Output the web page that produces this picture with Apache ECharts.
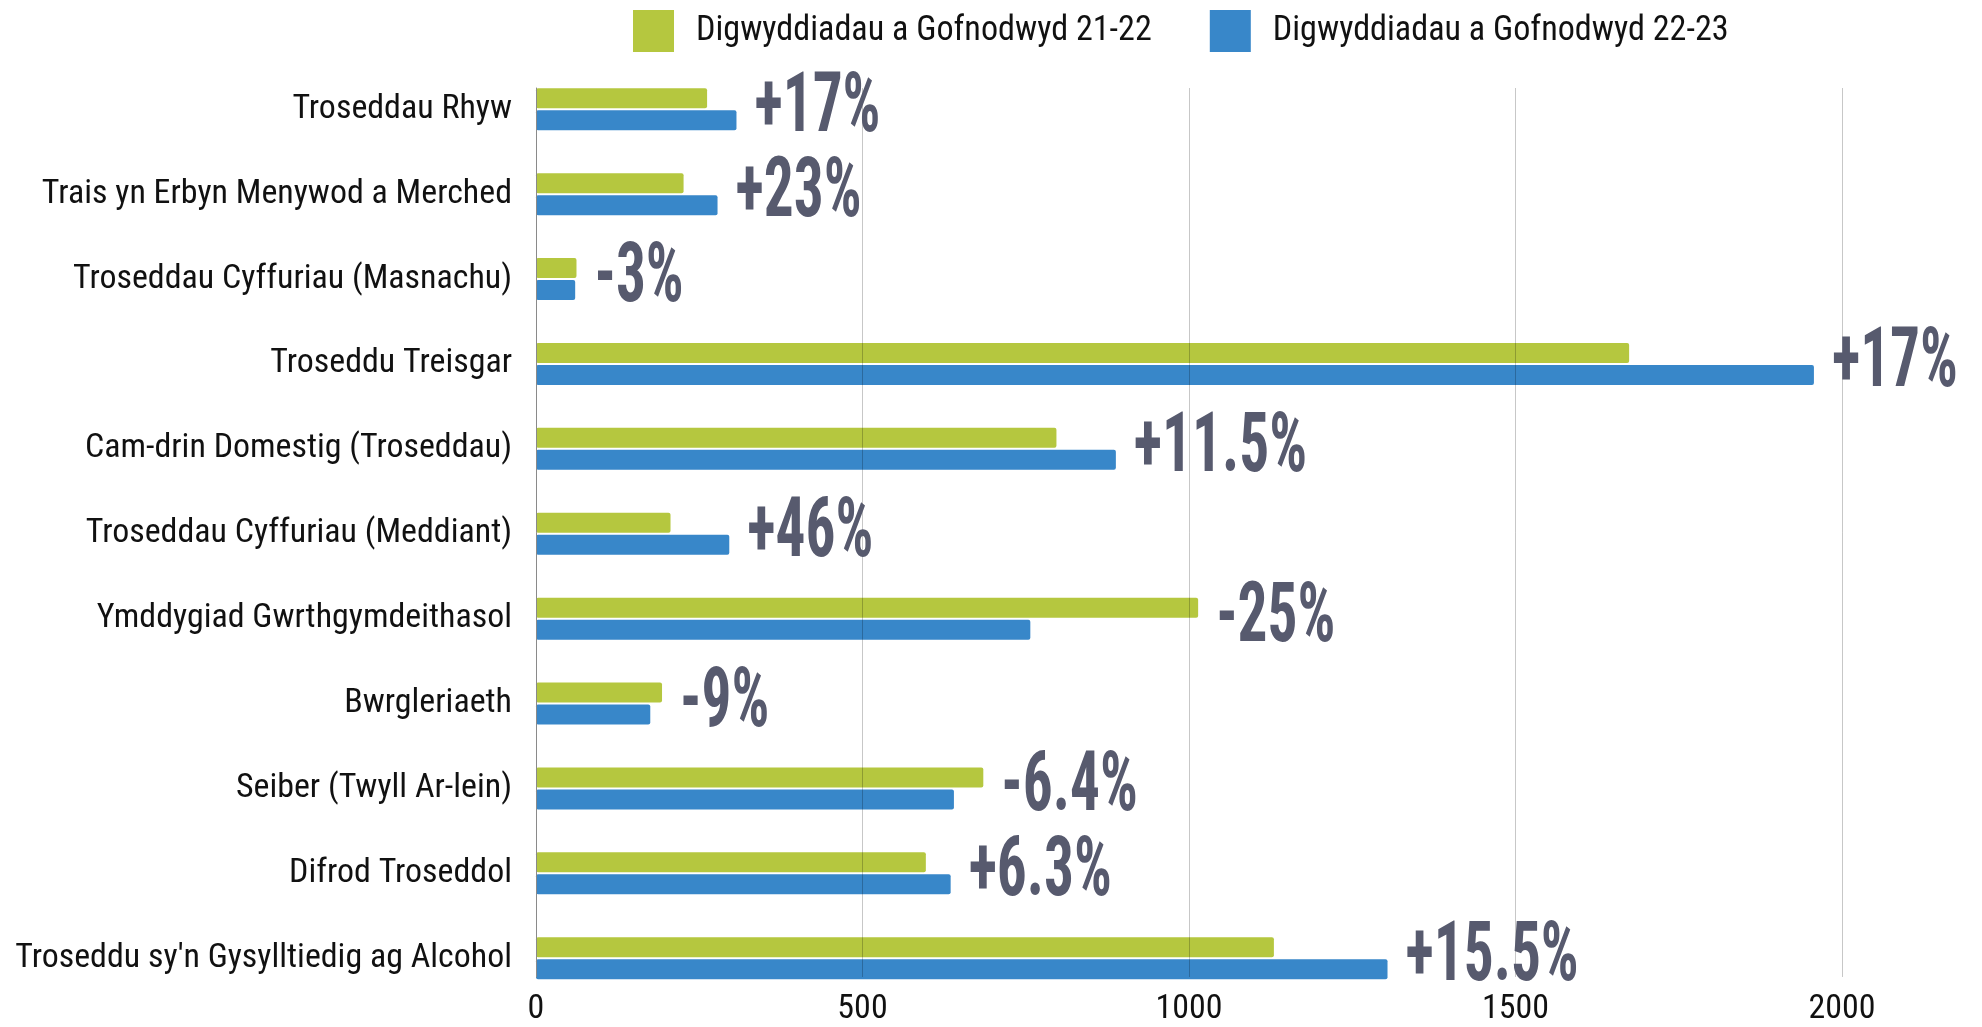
<!DOCTYPE html>
<html>
<head>
<meta charset="utf-8">
<script src="https://cdn.jsdelivr.net/npm/echarts@6/dist/echarts.min.js"></script>
<style>
html,body{margin:0;padding:0;background:#fff;}
#chart{width:1982px;height:1027px;}
</style>
</head>
<body>
<div id="chart"></div>
<script>
const categories = [
  'Troseddau Rhyw',
  'Trais yn Erbyn Menywod a Merched',
  'Troseddau Cyffuriau (Masnachu)',
  'Troseddu Treisgar',
  'Cam-drin Domestig (Troseddau)',
  'Troseddau Cyffuriau (Meddiant)',
  'Ymddygiad Gwrthgymdeithasol',
  'Bwrgleriaeth',
  'Seiber (Twyll Ar-lein)',
  'Difrod Troseddol',
  "Troseddu sy'n Gysylltiedig ag Alcohol"
];
const seriesNames = ['Digwyddiadau a Gofnodwyd 21-22', 'Digwyddiadau a Gofnodwyd 22-23'];
const incidents2122 = [262, 226, 62, 1674, 797, 206, 1014, 193, 685, 597, 1130];
const incidents2223 = [307, 278, 60, 1957, 888, 296, 757, 175, 640, 635, 1304];
const changeLabels = ['+17%', '+23%', '-3%', '+17%', '+11.5%', '+46%', '-25%', '-9%', '-6.4%', '+6.3%', '+15.5%'];
const xMin = 0, xMax = 2000, xInterval = 500;

// ---- font helpers ----
const mctx = document.createElement('canvas').getContext('2d');
function fontOK(name) {
  const s = 'Troseddu Gysylltiedig 0123456789';
  mctx.font = '40px monospace'; const a = mctx.measureText(s).width;
  mctx.font = '40px serif'; const b = mctx.measureText(s).width;
  mctx.font = '40px "' + name + '", monospace'; const c = mctx.measureText(s).width;
  mctx.font = '40px "' + name + '", serif'; const d = mctx.measureText(s).width;
  return !(a === c && b === d);
}
const narrow = ['Roboto Condensed', 'Liberation Sans Narrow', 'Arial Narrow'].find(fontOK);
const family = narrow ? '"' + narrow + '", Roboto, sans-serif' : 'Roboto, sans-serif';
function measure(text, size, fam, weight) {
  mctx.font = (weight || 'normal') + ' ' + size + 'px ' + fam;
  return mctx.measureText(text).width;
}
function fitSize(text, width, fam, weight) {
  return 100 * width / measure(text, 100, fam, weight);
}
const catSize = Math.min(36, fitSize(categories[10], 497, family));
const legendSize = Math.min(36, fitSize(seriesNames[0], 456, family));
const bigSize = 84;
const bigFamily = family;
const bigScale = 126 / measure('+17%', bigSize, bigFamily, 'bold');

const GREEN = '#b5c73f';
const BLUE = '#3887c9';
const LABEL = '#575a6e';

const labelData = categories.map((c, i) => [Math.max(incidents2122[i], incidents2223[i]), i, changeLabels[i]]);

const chart = echarts.init(document.getElementById('chart'));
chart.setOption({
  animation: false,
  backgroundColor: '#fff',
  textStyle: { fontFamily: family },
  legend: {
    left: 633, top: 10, padding: 0,
    itemWidth: 41, itemHeight: 42, itemGap: 58,
    icon: 'rect',
    data: seriesNames,
    textStyle: { fontSize: legendSize, color: '#111', fontFamily: family, padding: [0, 0, 0, 17] }
  },
  grid: [
    { left: 536, width: 1306, top: 66.8, height: 933.9, containLabel: false },
    { left: 536, width: 1306, top: 88, height: 891, containLabel: false }
  ],
  xAxis: [
    { type: 'value', gridIndex: 0, min: xMin, max: xMax, interval: xInterval, show: false },
    {
      type: 'value', gridIndex: 1, min: xMin, max: xMax, interval: xInterval, z: 5,
      axisLine: { show: false }, axisTick: { show: false },
      axisLabel: {
        fontSize: catSize, color: '#111', fontFamily: family, margin: 1012 - 979 - catSize / 2,
        formatter: function (v) { return String(v); }
      },
      splitLine: { show: true, lineStyle: { color: 'rgba(0,0,0,0.22)', width: 1 } }
    }
  ],
  yAxis: [
    {
      type: 'category', gridIndex: 0, data: categories, inverse: true,
      axisLine: { show: false }, axisTick: { show: false },
      axisLabel: { fontSize: catSize, color: '#111', fontFamily: family, margin: 24 },
      splitLine: { show: false }
    },
    {
      type: 'value', gridIndex: 1, min: 0, max: 1, z: 5,
      axisLine: { show: true, onZero: false, lineStyle: { color: '#8a8a8a', width: 1 } },
      axisTick: { show: false }, axisLabel: { show: false }, splitLine: { show: false }
    }
  ],
  series: [
    {
      name: seriesNames[0], type: 'bar', xAxisIndex: 0, yAxisIndex: 0,
      data: incidents2122, barWidth: 20, barGap: '10%',
      itemStyle: { color: GREEN, borderRadius: 2 }
    },
    {
      name: seriesNames[1], type: 'bar', xAxisIndex: 0, yAxisIndex: 0,
      data: incidents2223, barWidth: 20, barGap: '10%',
      itemStyle: { color: BLUE, borderRadius: 2 }
    },
    {
      type: 'custom', xAxisIndex: 0, yAxisIndex: 0, clip: false, z: 10,
      data: labelData,
      encode: { x: 0, y: 1 },
      renderItem: function (params, api) {
        const pt = api.coord([api.value(0), api.value(1)]);
        return {
          type: 'text',
          x: pt[0] + 18, y: pt[1] + 1,
          scaleX: bigScale, scaleY: 1,
          style: {
            text: changeLabels[params.dataIndex],
            fontSize: bigSize, fontWeight: 'bold', fontFamily: bigFamily,
            fill: LABEL, align: 'left', verticalAlign: 'middle'
          }
        };
      }
    }
  ]
});
</script>
</body>
</html>
